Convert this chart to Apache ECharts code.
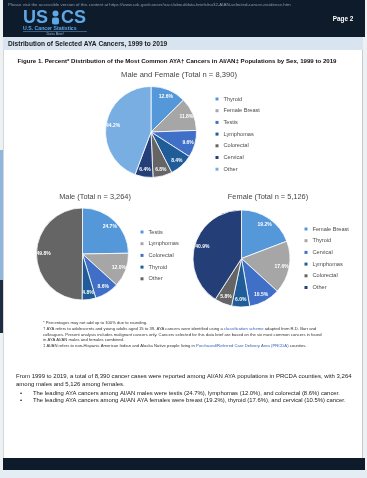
<!DOCTYPE html>
<html>
<head>
<meta charset="utf-8">
<script src="https://cdn.jsdelivr.net/npm/echarts@6/dist/echarts.min.js"></script>
<style>
  html, body { margin: 0; padding: 0; background: #ffffff; }
  #chart { width: 367px; height: 478px; }
</style>
</head>
<body>
<div id="chart"></div>
<script>
// Percent distribution of the most common AYA cancers, AI/AN populations, 1999–2019
const mainCategories = ['Thyroid', 'Female Breast', 'Testis', 'Lymphomas', 'Colorectal', 'Cervical', 'Other'];
const mainValues = [12.6, 11.8, 9.6, 8.4, 6.8, 6.4, 44.2];

const maleCategories = ['Testis', 'Lymphomas', 'Colorectal', 'Thyroid', 'Other'];
const maleValues = [24.7, 12.0, 8.6, 4.8, 49.8];

const femaleCategories = ['Female Breast', 'Thyroid', 'Cervical', 'Lymphomas', 'Colorectal', 'Other'];
const femaleValues = [19.2, 17.6, 10.5, 6.0, 5.8, 40.9];

const mainTitle = 'Male and Female (Total n = 8,390)';
const maleTitle = 'Male (Total n = 3,264)';
const femaleTitle = 'Female (Total n = 5,126)';

// Office-style blue/grey palette, in slice order
const palette = ['#5498da', '#a6a6a6', '#3f6fc6', '#1f5c98', '#656565', '#243f78', '#78aee2'];

const FONT = '"Liberation Sans", Arial, sans-serif';

function pieData(names, values) {
  return names.map((n, i) => ({ name: n, value: values[i], itemStyle: { color: palette[i] } }));
}

function legendData(names) {
  return names.map((n, i) => ({ name: n, icon: 'rect', itemStyle: { color: palette[i], opacity: 1 } }));
}

// a transparent ring that carries the value labels (drawn above), then the solid pie
function pieSeries(names, values, center, r) {
  const data = pieData(names, values);
  return [
    {
      type: 'pie', z: 5, center: center, radius: [r * 0.56, r], startAngle: 90, clockwise: true,
      data: data.map(d => ({ name: d.name, value: d.value, itemStyle: { color: 'rgba(0,0,0,0)' } })),
      silent: true, labelLine: { show: false },
      itemStyle: { borderWidth: 0 },
      label: {
        show: true, position: 'inside', color: '#ffffff', fontSize: 5, fontWeight: 'bold',
        fontFamily: FONT, formatter: p => p.value.toFixed(1) + '%'
      }
    },
    {
      type: 'pie', z: 2, center: center, radius: [0, r], startAngle: 90, clockwise: true,
      data: data, label: { show: false }, labelLine: { show: false }, silent: true,
      itemStyle: { borderColor: '#ffffff', borderWidth: 0.8 }
    }
  ];
}

function legend(names, left, top) {
  return {
    orient: 'vertical', left: left, top: top, selectedMode: false,
    itemWidth: 3, itemHeight: 3, itemGap: 4.7, padding: 0,
    data: legendData(names),
    textStyle: { fontSize: 5.6, color: '#4a4a4a', fontFamily: FONT, lineHeight: 7 }
  };
}

function txt(x, y, text, opt) {
  return {
    type: 'text', x: x, y: y, silent: true,
    style: Object.assign({ text: text, fontFamily: FONT, fontSize: 5, fill: '#222222',
      textAlign: 'left', textVerticalAlign: 'middle' }, opt || {})
  };
}

const footnotes = [
  '* Percentages may not add up to 100% due to rounding.',
  '† AYA refers to adolescents and young adults aged 15 to 39. AYA cancers were identified using a {a|classification scheme} adapted from R.D. Barr and',
  'colleagues. Present analysis includes malignant cancers only. Cancers selected for this data brief are based on the six most common cancers in found',
  'in AYA AI/AN males and females combined.',
  '‡ AI/AN refers to non-Hispanic American Indian and Alaska Native people living in {a|Purchased/Referred Care Delivery Area (PRCDA)} counties.'
];

const graphics = [
  // page surroundings
  { type: 'rect', shape: { x: 0, y: 0, width: 367, height: 478 }, style: { fill: '#eef1f4' }, silent: true },
  { type: 'rect', shape: { x: 0, y: 150, width: 3, height: 130 }, style: { fill: '#8fb6dc' }, silent: true },
  { type: 'rect', shape: { x: 0, y: 280, width: 3, height: 53 }, style: { fill: '#1d2c40' }, silent: true },
  { type: 'rect', shape: { x: 3, y: 37, width: 360, height: 421 }, style: { fill: '#ffffff' }, silent: true },
  { type: 'line', shape: { x1: 362.5, y1: 37, x2: 362.5, y2: 458 }, style: { stroke: '#c9c9c9', lineWidth: 1 }, silent: true },
  { type: 'line', shape: { x1: 3.5, y1: 37, x2: 3.5, y2: 458 }, style: { stroke: '#d6d6d6', lineWidth: 1 }, silent: true },
  // header bar
  { type: 'rect', shape: { x: 3, y: 0, width: 362, height: 37 }, style: { fill: '#0e1b2b' }, silent: true },
  txt(8, 5, 'Please visit the accessible version of this content at https://www.cdc.gov/cancer/uscs/about/data-briefs/no32-AIAN-selected-cancer-incidence.htm',
    { fontSize: 4.4, fill: '#8d9db2' }),
  txt(23, 18, 'US', { fontSize: 18, fontWeight: 'bold', fill: '#5ea8e8' }),
  { type: 'circle', shape: { cx: 55.5, cy: 13.5, r: 3 }, style: { fill: '#5ea8e8' }, silent: true },
  { type: 'rect', shape: { x: 52, y: 17.5, width: 7, height: 7, r: 2 }, style: { fill: '#5ea8e8' }, silent: true },
  txt(61, 18, 'CS', { fontSize: 18, fontWeight: 'bold', fill: '#5ea8e8' }),
  txt(23, 29, 'U.S. Cancer Statistics', { fontSize: 5.2, fontWeight: 'bold', fill: '#5ea8e8' }),
  { type: 'line', shape: { x1: 23, y1: 31.5, x2: 87, y2: 31.5 }, style: { stroke: '#5ea8e8', lineWidth: 0.5 }, silent: true },
  txt(55, 34, 'Data Brief', { fontSize: 3.8, fill: '#8fb6dc', textAlign: 'center' }),
  txt(343, 19, 'Page 2', { fontSize: 6.4, fontWeight: 'bold', fill: '#ffffff', textAlign: 'center' }),
  // section band
  { type: 'rect', shape: { x: 3, y: 37, width: 360, height: 13 }, style: { fill: '#d9e4f1' }, silent: true },
  txt(8, 44, 'Distribution of Selected AYA Cancers, 1999 to 2019', { fontSize: 6.6, fontWeight: 'bold', fill: '#1a1a1a' }),
  // figure heading and pie titles
  txt(177, 61, 'Figure 1. Percent* Distribution of the Most Common AYA† Cancers in AI/AN‡ Populations by Sex, 1999 to 2019',
    { fontSize: 6.1, fontWeight: 'bold', fill: '#111111', textAlign: 'center' }),
  txt(179, 75, mainTitle, { fontSize: 7.6, fill: '#444444', textAlign: 'center' }),
  txt(95, 197, maleTitle, { fontSize: 7.4, fill: '#444444', textAlign: 'center' }),
  txt(268, 197, femaleTitle, { fontSize: 7.4, fill: '#444444', textAlign: 'center' }),
  // narrative text
  txt(16, 376, 'From 1999 to 2019, a total of 8,390 cancer cases were reported among AI/AN AYA populations in PRCDA counties, with 3,264',
    { fontSize: 6.0 }),
  txt(16, 384, 'among males and 5,126 among females.', { fontSize: 6.0 }),
  txt(20, 393, '•', { fontSize: 6, fill: '#111111' }),
  txt(20, 400, '•', { fontSize: 6, fill: '#111111' }),
  txt(33, 393, 'The leading AYA cancers among AI/AN males were testis (24.7%), lymphomas (12.0%), and colorectal (8.6%) cancer.',
    { fontSize: 5.9 }),
  txt(33, 400, 'The leading AYA cancers among AI/AN AYA females were breast (19.2%), thyroid (17.6%), and cervical (10.5%) cancer.',
    { fontSize: 5.9 }),
  // footer bar
  { type: 'rect', shape: { x: 3, y: 458, width: 362, height: 12 }, style: { fill: '#0e1b2b' }, silent: true },
  { type: 'rect', shape: { x: 0, y: 470, width: 367, height: 8 }, style: { fill: '#e4ecf4' }, silent: true }
];

footnotes.forEach((line, i) => {
  graphics.push({
    type: 'text', x: 43, y: 323 + i * 5.7, silent: true,
    style: {
      text: line, fontFamily: FONT, fontSize: 4.2, fill: '#333333', textVerticalAlign: 'middle',
      rich: { a: { fontSize: 4.2, fill: '#2f5fb5', fontFamily: FONT } }
    }
  });
});

const chart = echarts.init(document.getElementById('chart'), null, { renderer: 'canvas' });
chart.setOption({
  animation: false,
  backgroundColor: '#ffffff',
  graphic: { elements: graphics },
  legend: [
    legend(mainCategories, 215.5, 95.5),
    legend(maleCategories, 140.5, 228.5),
    legend(femaleCategories, 304.5, 225.5)
  ],
  series: [
    ...pieSeries(mainCategories, mainValues, [151, 132], 45.5),
    ...pieSeries(maleCategories, maleValues, [82.5, 254], 46),
    ...pieSeries(femaleCategories, femaleValues, [241.5, 258.5], 48.5)
  ]
});
</script>
</body>
</html>
